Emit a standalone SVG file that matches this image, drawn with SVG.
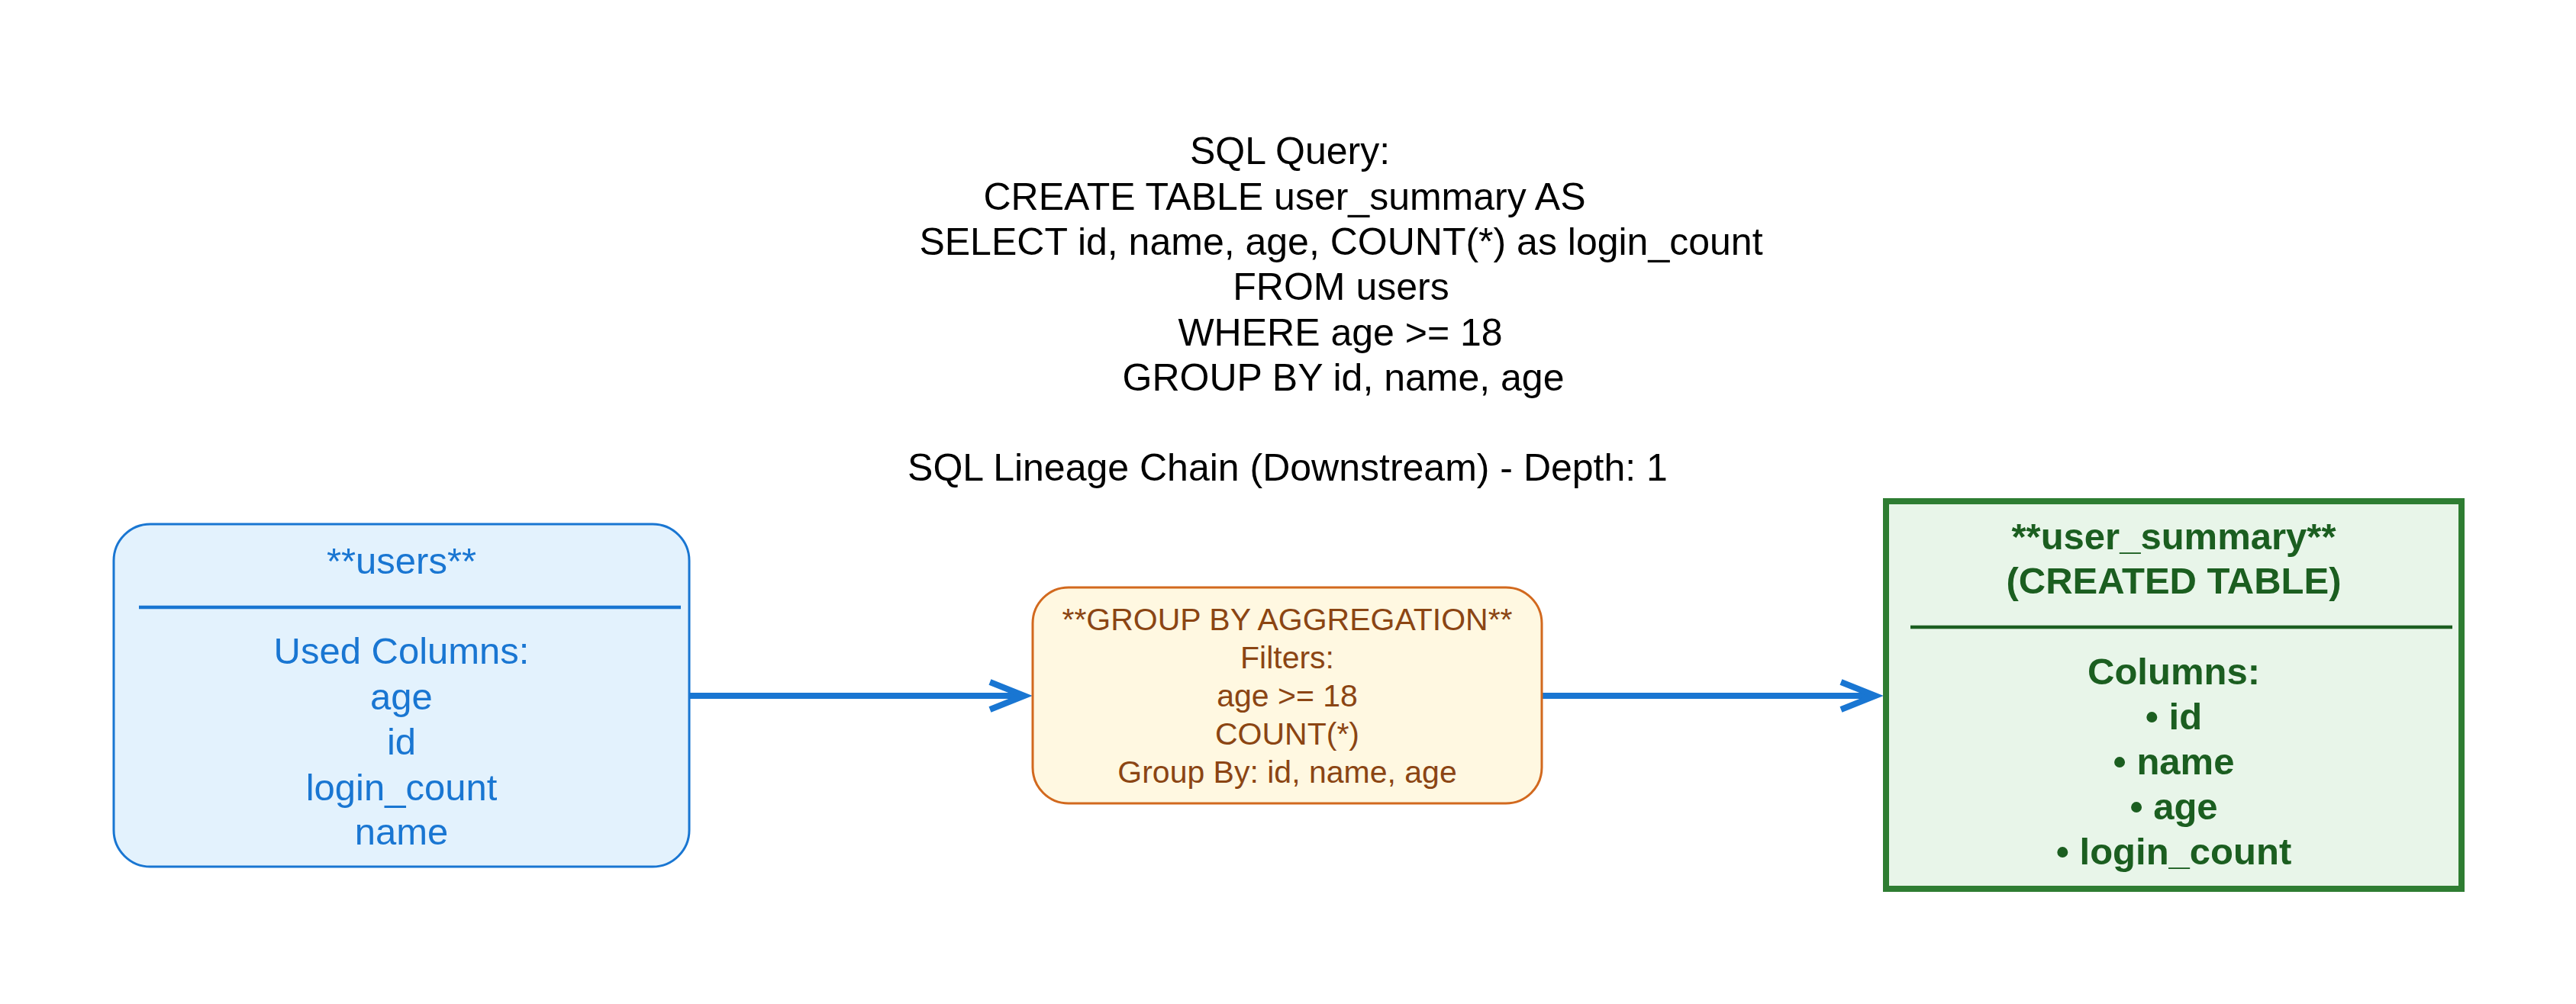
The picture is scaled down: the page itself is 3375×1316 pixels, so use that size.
<svg xmlns="http://www.w3.org/2000/svg" width="3375" height="1316" viewBox="0 0 3375 1316">
<defs>
<style>
text{font-family:"Liberation Sans",Arial,sans-serif;text-anchor:middle}
.title{font-size:50px;fill:#000}
.src{font-size:49px;fill:#1976D2}
.op{font-size:41px;fill:#8B4513}
.tgt{font-size:49px;font-weight:bold;fill:#1B5E20}
.edge{stroke:#1976D2;stroke-width:8;fill:none}
</style>
<marker id="arr" markerUnits="userSpaceOnUse" markerWidth="80" markerHeight="80" viewBox="0 0 80 80" refX="60" refY="40" orient="auto" overflow="visible">
<path d="M 15 22 L 60 40 L 15 58" fill="none" stroke="#1976D2" stroke-width="8" stroke-linejoin="miter" stroke-miterlimit="10"/>
</marker>
</defs>
<rect width="3375" height="1316" fill="#fff"/>
<g id="title">
<text class="title" x="1690" y="215">SQL Query:</text>
<text class="title" x="1683" y="275">CREATE TABLE user_summary AS</text>
<text class="title" x="1757" y="334">SELECT id, name, age, COUNT(*) as login_count</text>
<text class="title" x="1757" y="393">FROM users</text>
<text class="title" x="1756" y="453">WHERE age &gt;= 18</text>
<text class="title" x="1760" y="512">GROUP BY id, name, age</text>
<text class="title" x="1687" y="630">SQL Lineage Chain (Downstream) - Depth: 1</text>
</g>
<g id="connectors">
<line class="edge" x1="903" y1="912" x2="1342" y2="912" marker-end="url(#arr)"/>
<line class="edge" x1="2020" y1="912" x2="2457" y2="912" marker-end="url(#arr)"/>
</g>
<g id="node-users">
<rect x="149" y="687" width="754" height="449" rx="48" ry="48" fill="#E3F2FD" stroke="#1976D2" stroke-width="3"/>
<line x1="182" y1="796" x2="892" y2="796" stroke="#1976D2" stroke-width="4.5"/>
<text class="src" x="526" y="752">**users**</text>
<text class="src" x="526" y="870">Used Columns:</text>
<text class="src" x="526" y="930">age</text>
<text class="src" x="526" y="989">id</text>
<text class="src" x="526" y="1049">login_count</text>
<text class="src" x="526" y="1107">name</text>
</g>
<g id="node-groupby">
<rect x="1353" y="770" width="667" height="283" rx="47" ry="47" fill="#FFF8E1" stroke="#D2691E" stroke-width="3"/>
<text class="op" x="1686.5" y="826">**GROUP BY AGGREGATION**</text>
<text class="op" x="1686.5" y="876">Filters:</text>
<text class="op" x="1686.5" y="926">age &gt;= 18</text>
<text class="op" x="1686.5" y="976">COUNT(*)</text>
<text class="op" x="1686.5" y="1026">Group By: id, name, age</text>
</g>
<g id="node-user_summary">
<rect x="2471" y="657" width="754" height="508" fill="#E8F5E9" stroke="#2E7D32" stroke-width="8"/>
<line x1="2503" y1="822" x2="3213" y2="822" stroke="#1B5E20" stroke-width="4.5"/>
<text class="tgt" x="2848" y="720">**user_summary**</text>
<text class="tgt" x="2848" y="778">(CREATED TABLE)</text>
<text class="tgt" x="2848" y="897">Columns:</text>
<text class="tgt" x="2848" y="956">• id</text>
<text class="tgt" x="2848" y="1015">• name</text>
<text class="tgt" x="2848" y="1074">• age</text>
<text class="tgt" x="2848" y="1133">• login_count</text>
</g>
</svg>
